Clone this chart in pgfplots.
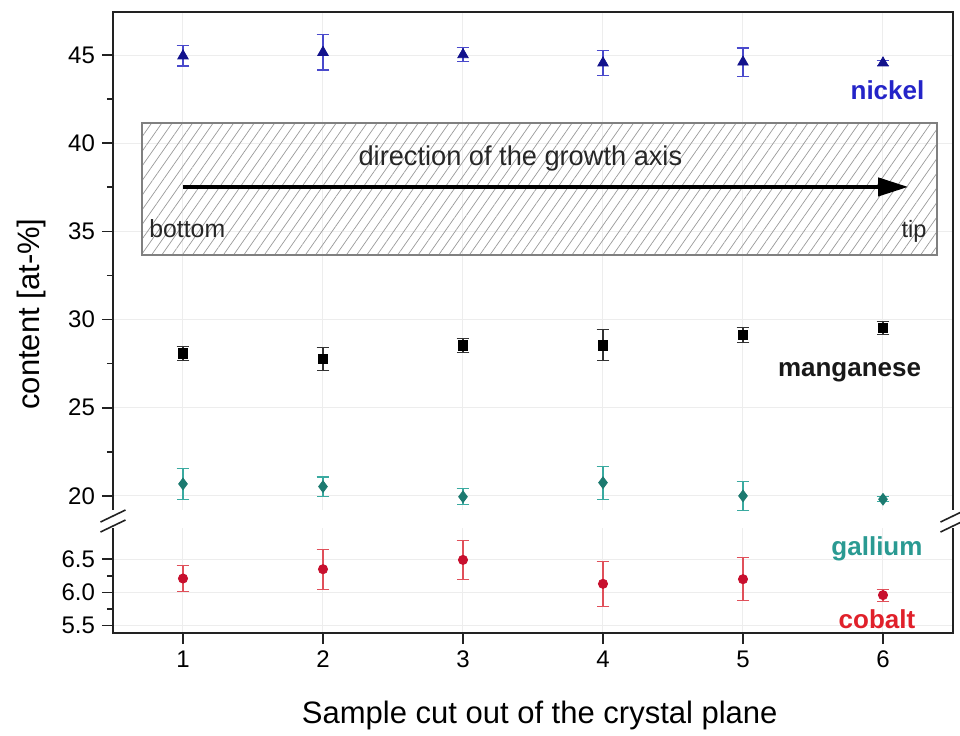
\documentclass[border=0pt]{standalone}
\usepackage{fontspec}
\setmainfont{Liberation Sans}
\usepackage{pgfplots}
\pgfplotsset{compat=1.18}
\usepackage{pgfplotstable}
\usetikzlibrary{patterns.meta,arrows.meta}

\definecolor{niMark}{HTML}{12128C}
\definecolor{niBar}{HTML}{4A4ACC}
\definecolor{niText}{HTML}{2424C8}
\definecolor{mnBar}{HTML}{333333}
\definecolor{gaMark}{HTML}{1C7A70}
\definecolor{gaBar}{HTML}{3AAAA0}
\definecolor{gaText}{HTML}{2A9A92}
\definecolor{coMark}{HTML}{C8102E}
\definecolor{coBar}{HTML}{E0505A}
\definecolor{coText}{HTML}{E0202A}
\definecolor{axisgray}{HTML}{222222}

% sample, content, error
\pgfplotstableread{
x y e
1 44.95 0.57
2 45.15 1.00
3 45.02 0.40
4 44.55 0.70
5 44.60 0.80
6 44.55 0.15
}\nickel
\pgfplotstableread{
x y e
1 28.07 0.41
2 27.77 0.64
3 28.53 0.38
4 28.55 0.88
5 29.12 0.44
6 29.52 0.39
}\manganese
\pgfplotstableread{
x y e
1 20.68 0.87
2 20.53 0.54
3 19.95 0.46
4 20.75 0.94
5 20.00 0.84
6 19.81 0.15
}\gallium
\pgfplotstableread{
x y e
1 6.21 0.20
2 6.35 0.30
3 6.49 0.29
4 6.13 0.34
5 6.20 0.32
6 5.96 0.09
}\cobalt

\tikzset{
  axisline/.style={axisgray, line width=1pt},
  elem/.style={font=\fontsize{13}{15}\selectfont\bfseries, anchor=base, inner sep=0pt},
}
\pgfplotsset{
  panel/.style={
    scale only axis, width=420pt,
    xmin=0.5, xmax=6.5, xtick={1,...,6},
    axis line style={draw=none},
    grid=major, major grid style={line width=0.5pt, black!7},
    tick align=outside, ytick pos=left,
    major tick length=5.5pt, minor tick length=3pt,
    tick style={axisgray, line width=0.8pt},
    minor y tick num=1,
    tick label style={font=\fontsize{12}{14}\selectfont},
    /pgf/number format/assume math mode=true,
    clip=false,
  },
  errbars/.style={
    error bars/.cd, y dir=both, y explicit,
    error bar style={#1, line width=0.55pt},
    error mark options={#1, line width=0.55pt, mark size=3.2pt, rotate=90},
  },
}

\begin{document}
\begin{tikzpicture}
\useasboundingbox (-56.5pt,-51pt) rectangle (423.5pt,316.5pt);

% lower panel: cobalt
\begin{axis}[panel, name=low, at={(0,0)}, anchor=south west,
  height=52.5pt, ymin=5.39, ymax=6.97,
  ytick={5.5,6,6.5}, xtick pos=bottom,
  yticklabel style={/pgf/number format/.cd, fixed, fixed zerofill, precision=1},
  xlabel={Sample cut out of the crystal plane},
  xlabel style={font=\fontsize{15.5}{18}\selectfont, at={(axis description cs:0.508,0)}, anchor=center, yshift=-41pt},
]
\addplot[only marks, mark=*, mark options={draw=coMark, fill=coMark}, mark size=2.3pt, errbars=coBar]
  table[x=x, y=y, y error=e] {\cobalt};
\draw[axisline] (rel axis cs:0,1) -- (rel axis cs:0,0) -- (rel axis cs:1,0) -- (rel axis cs:1,1);
\node[elem, gaText] at (axis cs:5.957,6.553) {gallium};
\node[elem, coText] at (axis cs:5.957,5.458) {cobalt};
\end{axis}

% upper panel: nickel, manganese, gallium
\begin{axis}[panel, name=up, at={(0,61.5pt)}, anchor=south west,
  height=249pt, ymin=19.2, ymax=47.44,
  ytick={20,25,...,45}, xticklabels={}, xmajorticks=false,
  ylabel={content [at-\%]},
  ylabel style={font=\fontsize{15.5}{18}\selectfont, at={(axis description cs:-0.0976,0.3936)}, anchor=center},
]
% growth direction annotation
\draw[draw=black!50, line width=0.6pt, pattern={Lines[angle=55, distance=4.2pt, line width=0.35pt]}, pattern color=black!40]
  (axis cs:0.707,33.66) rectangle (axis cs:6.386,41.15);
\draw[line width=2pt, -{Triangle[length=15pt, width=9pt]}] (axis cs:1.0,37.52) -- (axis cs:6.18,37.52);
\node[font=\fontsize{13.6}{16}\selectfont, anchor=base, inner sep=0pt, text=black!85] at (axis cs:3.41,38.76) {direction of the growth axis};
\node[font=\fontsize{12.4}{15}\selectfont, anchor=base west, inner sep=0pt, text=black!85] at (axis cs:0.757,34.68) {bottom};
\node[font=\fontsize{11.8}{14}\selectfont, anchor=base east, inner sep=0pt, text=black!85] at (axis cs:6.314,34.68) {tip};

\addplot[only marks, mark=triangle*, mark options={draw=niMark, fill=niMark}, mark size=3pt, errbars=niBar]
  table[x=x, y=y, y error=e] {\nickel};
\addplot[only marks, mark=square*, mark options={draw=black, fill=black}, mark size=2.4pt, errbars=mnBar]
  table[x=x, y=y, y error=e] {\manganese};
\addplot[only marks, mark=diamond*, mark options={draw=gaMark, fill=gaMark}, mark size=2.9pt, errbars=gaBar]
  table[x=x, y=y, y error=e] {\gallium};

\draw[axisline] (rel axis cs:0,0) -- (rel axis cs:0,1) -- (rel axis cs:1,1) -- (rel axis cs:1,0);
\node[elem, niText] at (axis cs:6.032,42.45) {nickel};
\node[elem, black!90] at (axis cs:5.761,26.77) {manganese};
\end{axis}

% axis break marks
\foreach \c in {low.north west, low.north east}{
  \draw[axisline, line width=0.8pt] ([shift={(-6.25pt,-2pt)}]\c) -- ++(12.5pt,6pt);
  \draw[axisline, line width=0.8pt] ([shift={(-6.25pt,3pt)}]\c) -- ++(12.5pt,6pt);
}
\end{tikzpicture}
\end{document}
